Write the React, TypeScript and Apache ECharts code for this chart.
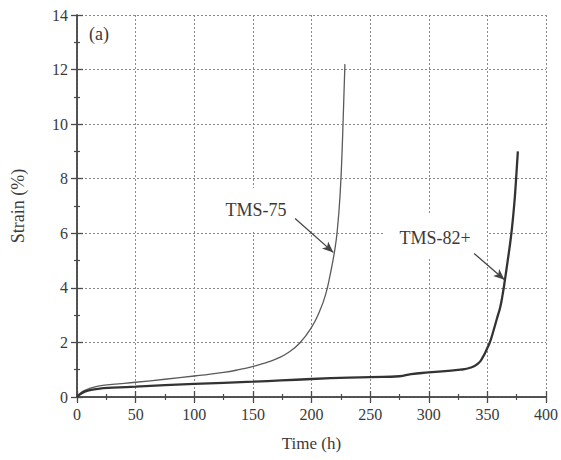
import React, { useEffect, useRef } from "react";
import * as echarts from "echarts";

const tms75Time = [0, 4, 10, 18, 30, 50, 75, 100, 125, 140, 150, 160, 170, 180, 190, 200, 207, 212, 216, 219.5, 222, 224.5, 226.5, 228.5];
const tms75Strain = [0, 0.18, 0.3, 0.4, 0.46, 0.54, 0.65, 0.77, 0.9, 1.02, 1.12, 1.24, 1.4, 1.62, 1.98, 2.55, 3.15, 3.75, 4.5, 5.3, 6.1, 7.5, 9.5, 12.2];

const tms82Time = [0, 4, 10, 18, 30, 50, 100, 150, 200, 250, 275, 285, 300, 327, 336, 342, 346, 349.5, 352.5, 355, 358, 361, 363, 365, 367, 369, 371, 373, 374.5, 376];
const tms82Strain = [0, 0.14, 0.24, 0.3, 0.34, 0.38, 0.48, 0.56, 0.66, 0.73, 0.76, 0.84, 0.9, 1.0, 1.08, 1.22, 1.45, 1.75, 2.05, 2.4, 2.85, 3.3, 3.75, 4.3, 4.9, 5.5, 6.2, 7.1, 8.0, 9.0];

const xTicks = { min: 0, max: 400, interval: 50 };
const yTicks = { min: 0, max: 14, interval: 2 };

const seriesNames = ["TMS-75", "TMS-82+"];
const panelLabel = "(a)";
const xName = "Time (h)";
const yName = "Strain (%)";

const FONT = "Liberation Serif";
const AXIS_COLOR = "#4a4a4a";
const TEXT_COLOR = "#3a3a3a";

function pairs(xs: number[], ys: number[]) {
  return xs.map((x, i) => [x, ys[i]]);
}

export default function App() {
  const ref = useRef<HTMLDivElement>(null);
  useEffect(() => {
    if (!ref.current) return;
    document.body.style.margin = "0";
    const chart = echarts.init(ref.current, undefined, { renderer: "svg" });
    const axisCommon = {
      axisLine: { show: true, lineStyle: { color: AXIS_COLOR, width: 1.5 } },
      axisTick: { show: true, inside: true, length: 6, lineStyle: { color: AXIS_COLOR, width: 1.3 } },
      minorTick: { show: true, splitNumber: 2, length: 3, lineStyle: { color: AXIS_COLOR, width: 1.2 } },
    };
    const rich = {
      s: { fontFamily: FONT, fontSize: 16, color: TEXT_COLOR },
      n: { fontFamily: FONT, fontSize: 17, color: TEXT_COLOR },
      m: { fontFamily: FONT, fontSize: 18, color: TEXT_COLOR },
    };
    const tickLabel = {
      fontFamily: FONT,
      fontSize: 16,
      color: TEXT_COLOR,
      margin: 9,
      formatter: (v: number) => `{s|${v}}`,
      rich,
    };
    const option: any = {
      animation: false,
      backgroundColor: "#fff",
      textStyle: { fontFamily: FONT },
      grid: { left: 77, right: 13, top: 15, bottom: 63, containLabel: false },
      xAxis: [
        {
          type: "value",
          ...xTicks,
          ...axisCommon,
          name: `{n|${xName}}`,
          nameLocation: "middle",
          nameGap: 38,
          nameTextStyle: { fontFamily: FONT, fontSize: 17, color: TEXT_COLOR, rich },
          axisLabel: tickLabel,
          splitLine: { show: true, lineStyle: { color: "#8a8a8a", type: [2, 2], width: 1 } },
        },
        {
          type: "value",
          position: "top",
          ...xTicks,
          ...axisCommon,
          axisLabel: { show: false },
          splitLine: { show: false },
        },
      ],
      yAxis: [
        {
          type: "value",
          ...yTicks,
          ...axisCommon,
          name: `{m|${yName}}`,
          nameLocation: "middle",
          nameGap: 50,
          nameTextStyle: { fontFamily: FONT, fontSize: 18, color: TEXT_COLOR, rich },
          axisLabel: tickLabel,
          splitLine: { show: true, lineStyle: { color: "#8a8a8a", type: [2, 2], width: 1 } },
        },
        {
          type: "value",
          position: "right",
          ...yTicks,
          ...axisCommon,
          axisLabel: { show: false },
          splitLine: { show: false },
        },
      ],
      series: [
        {
          name: seriesNames[0],
          type: "line",
          data: pairs(tms75Time, tms75Strain),
          showSymbol: false,
          smooth: 0.5,
          lineStyle: { color: "#5a5a5a", width: 1.3 },
          markLine: {
            silent: true,
            symbol: ["none", "arrow"],
            symbolSize: [7, 11],
            label: { show: false },
            lineStyle: { color: "#444", width: 1.3, type: "solid" },
            data: [[{ coord: [186, 6.54] }, { coord: [218.6, 5.3] }]],
          },
        },
        {
          name: seriesNames[1],
          type: "line",
          data: pairs(tms82Time, tms82Strain),
          showSymbol: false,
          smooth: 0.5,
          lineStyle: { color: "#333", width: 2.3 },
          markLine: {
            silent: true,
            symbol: ["none", "arrow"],
            symbolSize: [7, 11],
            label: { show: false },
            lineStyle: { color: "#444", width: 1.3, type: "solid" },
            data: [[{ coord: [338.7, 5.26] }, { coord: [364.6, 4.3] }]],
          },
        },
      ],
      graphic: [
        {
          type: "text",
          left: 89,
          top: 25,
          style: { text: panelLabel, font: `18px ${FONT}`, fill: TEXT_COLOR },
        },
        {
          type: "rect",
          shape: { x: 220, y: 188, width: 72, height: 44 },
          style: { fill: "#fff" },
          z: 5,
        },
        {
          type: "text",
          x: 256,
          y: 210,
          style: { text: seriesNames[0], font: `18px ${FONT}`, fill: TEXT_COLOR, align: "center", verticalAlign: "middle" },
          z: 6,
        },
        {
          type: "rect",
          shape: { x: 384, y: 213, width: 103, height: 44 },
          style: { fill: "#fff" },
          z: 5,
        },
        {
          type: "text",
          x: 435,
          y: 238,
          style: { text: seriesNames[1], font: `18px ${FONT}`, fill: TEXT_COLOR, align: "center", verticalAlign: "middle" },
          z: 6,
        },
      ],
    };
    chart.setOption(option);
    return () => chart.dispose();
  }, []);
  return <div ref={ref} style={{ width: 561, height: 460 }} />;
}
